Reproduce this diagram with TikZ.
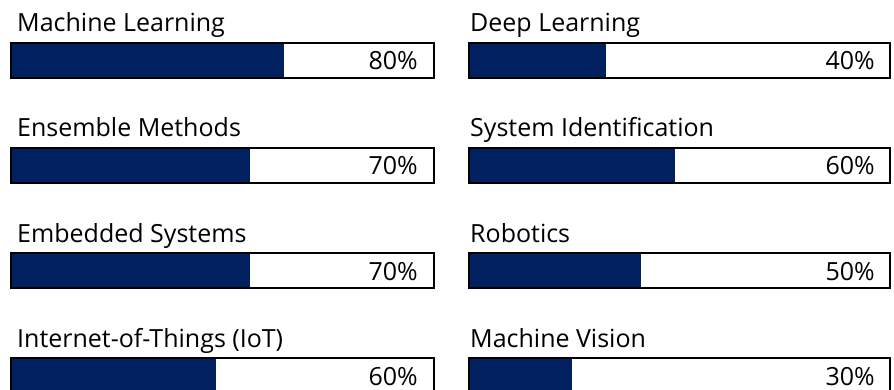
\documentclass[tikz,border=0pt]{standalone}
\usepackage{fontspec}
\setmainfont{Open Sans}
\usepackage{tikz}
\usetikzlibrary{positioning}

\definecolor{navy}{RGB}{0,32,96}
\tikzset{
	skill/.style={anchor=base west, inner sep=0pt, font=\fontsize{25}{29}\selectfont},
	pct/.style={anchor=base east, inner sep=0pt, font=\fontsize{25}{29}\selectfont},
	frame/.style={draw=black, line width=2pt},
	level/.style={fill=navy}
}

\begin{document}
\begin{tikzpicture}[x=1pt,y=-1pt]
	\useasboundingbox (0,0) rectangle (894,390);
	% left column
	\node (1) [skill] at (17,32) {Machine Learning};
	\fill[level] (11,43) rectangle (284,78);
	\draw[frame] (11,43) rectangle (434,78);
	\node (1p) [pct] at (418,70) {80\%};

	\node (2) [skill] at (17,137) {Ensemble Methods};
	\fill[level] (11,148) rectangle (250,183);
	\draw[frame] (11,148) rectangle (434,183);
	\node (2p) [pct] at (418,175) {70\%};

	\node (3) [skill] at (17,242) {Embedded Systems};
	\fill[level] (11,253) rectangle (250,288);
	\draw[frame] (11,253) rectangle (434,288);
	\node (3p) [pct] at (418,280) {70\%};

	\node (4) [skill] at (17,347) {Internet-of-Things (IoT)};
	\fill[level] (11,358) rectangle (216,393);
	\draw[frame] (11,358) rectangle (434,393);
	\node (4p) [pct] at (418,385) {60\%};

	% right column
	\node (5) [skill] at (470,32) {Deep Learning};
	\fill[level] (469,43) rectangle (606,78);
	\draw[frame] (469,43) rectangle (890,78);
	\node (5p) [pct] at (875,70) {40\%};

	\node (6) [skill] at (470,137) {System Identification};
	\fill[level] (469,148) rectangle (675,183);
	\draw[frame] (469,148) rectangle (890,183);
	\node (6p) [pct] at (875,175) {60\%};

	\node (7) [skill] at (470,242) {Robotics};
	\fill[level] (469,253) rectangle (641,288);
	\draw[frame] (469,253) rectangle (890,288);
	\node (7p) [pct] at (875,280) {50\%};

	\node (8) [skill] at (470,347) {Machine Vision};
	\fill[level] (469,358) rectangle (572,393);
	\draw[frame] (469,358) rectangle (890,393);
	\node (8p) [pct] at (875,385) {30\%};
\end{tikzpicture}
\end{document}
